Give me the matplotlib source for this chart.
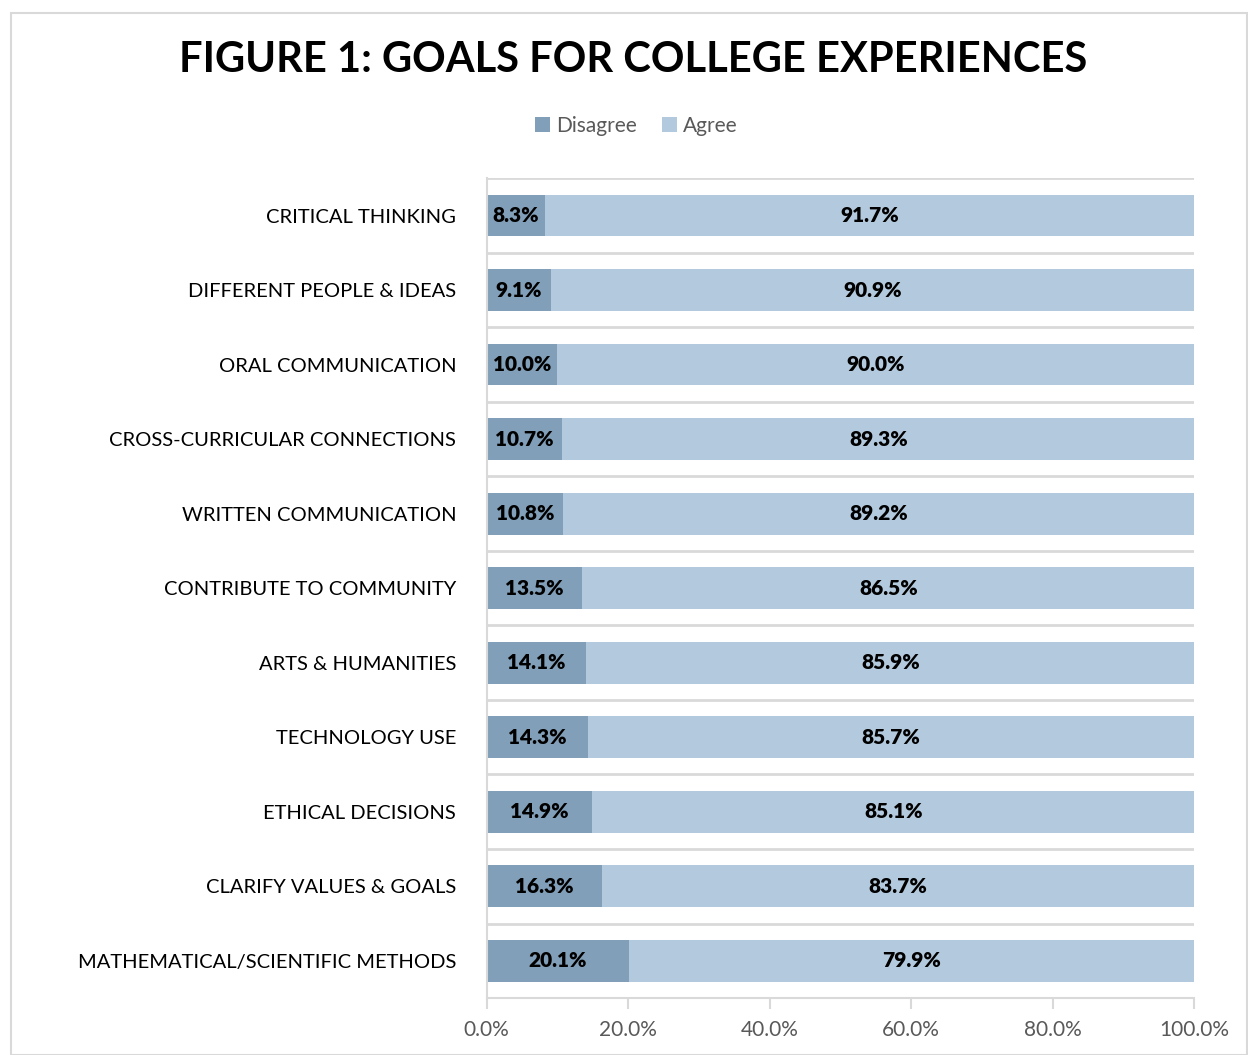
import numpy as np
import matplotlib.pyplot as plt
from matplotlib.patches import Rectangle

plt.rcParams['font.family'] = ['Lato', 'DejaVu Sans']

categories = ["CRITICAL THINKING", "DIFFERENT PEOPLE & IDEAS", "ORAL COMMUNICATION",
              "CROSS-CURRICULAR CONNECTIONS", "WRITTEN COMMUNICATION",
              "CONTRIBUTE TO COMMUNITY", "ARTS & HUMANITIES", "TECHNOLOGY USE",
              "ETHICAL DECISIONS", "CLARIFY VALUES & GOALS",
              "MATHEMATICAL/SCIENTIFIC METHODS"]
disagree = [8.3, 9.1, 10.0, 10.7, 10.8, 13.5, 14.1, 14.3, 14.9, 16.3, 20.1]
agree = [91.7, 90.9, 90.0, 89.3, 89.2, 86.5, 85.9, 85.7, 85.1, 83.7, 79.9]
xticks = [0, 20, 40, 60, 80, 100]

c_dis = '#819FB8'
c_agr = '#B3C9DD'

fig = plt.figure(figsize=(12.48, 10.55), dpi=100)
ax = fig.add_axes([0.390, 0.054, 0.567, 0.777])

y = np.arange(len(categories))
ax.barh(y, disagree, height=0.56, color=c_dis, label='Disagree')
ax.barh(y, agree, left=disagree, height=0.56, color=c_agr, label='Agree')

for i in range(len(categories)):
    ax.text(disagree[i] / 2, y[i], f"{disagree[i]:.1f}%", ha='center', va='center',
            fontsize=15, fontweight='heavy', color='black')
    ax.text(disagree[i] + agree[i] / 2, y[i], f"{agree[i]:.1f}%", ha='center', va='center',
            fontsize=15, fontweight='heavy', color='black')

ax.set_ylim(len(categories) - 0.5, -0.5)
ax.set_xlim(0, 100)
ax.set_yticks(y)
ax.set_yticklabels(categories, fontsize=14.5, color='black')
ax.tick_params(axis='y', length=0, pad=22)
ax.set_xticks(xticks)
ax.set_xticklabels([f"{t:.1f}%" for t in xticks], fontsize=15, color='#595959')
ax.tick_params(axis='x', length=8, color='#D9D9D9', width=1.5, pad=8)

# gridlines between categories
for b in np.arange(-0.5, len(categories) - 0.5, 1.0):
    ax.axhline(b, color='#D9D9D9', lw=2, zorder=0)

for s in ['top', 'right']:
    ax.spines[s].set_visible(False)
ax.spines['left'].set_color('#D9D9D9')
ax.spines['left'].set_linewidth(1.5)
ax.spines['bottom'].set_color('#D9D9D9')
ax.spines['bottom'].set_linewidth(1.5)

fig.text(0.507, 0.943, "FIGURE 1: GOALS FOR COLLEGE EXPERIENCES", ha='center', va='center',
         fontsize=30, fontweight='bold', color='black')

leg = fig.legend(loc='center', bbox_to_anchor=(0.51, 0.881), ncol=2, frameon=False,
                 fontsize=15, handlelength=0.7, handleheight=0.7, handletextpad=0.3,
                 columnspacing=1.2)
for t in leg.get_texts():
    t.set_color('#595959')

fig.patches.append(Rectangle((0.009, 0.0), 0.99, 0.988, transform=fig.transFigure,
                             fill=False, edgecolor='#D9D9D9', lw=1.5))

fig.savefig('out.png', dpi=100)
